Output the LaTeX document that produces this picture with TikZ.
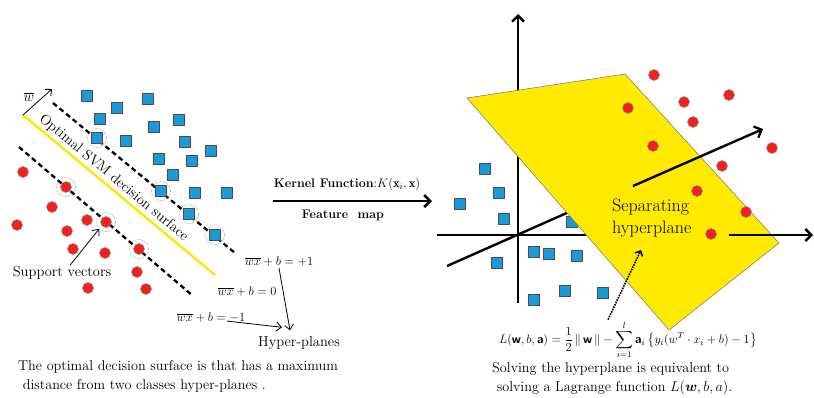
\RequirePackage{fix-cm}
\documentclass[tikz,border=0pt]{standalone}
\usepackage{amsmath, amssymb}
\usepackage{fontspec}
\usetikzlibrary{arrows.meta, positioning, calc}
\definecolor{sqblue}{HTML}{1A9AD7}
\definecolor{dotred}{HTML}{F42020}
\definecolor{planeyellow}{HTML}{FFEA00}
\newcommand{\sfw}{\text{\sffamily\bfseries w}}
\newcommand{\sfa}{\text{\sffamily\bfseries a}}

\begin{document}
\begin{tikzpicture}[x=1pt, y=-1pt, >={Straight Barb[length=5pt,width=9pt]},
    sq/.style={draw=black!70, fill=sqblue, minimum size=11pt, inner sep=0pt, line width=0.6pt},
    dot/.style={circle, draw=black!45, fill=dotred, minimum size=11pt, inner sep=0pt, line width=0.5pt},
    ring/.style={circle, draw=black!60, densely dotted, minimum size=19pt, inner sep=0pt, line width=0.5pt},
    margin/.style={line width=2.3pt, dash pattern=on 5pt off 3.5pt},
    axis/.style={line width=2.4pt, ->, >={Straight Barb[length=6pt,width=12pt]}},
    lbl/.style={font=\fontsize{14.5}{17}\selectfont, inner sep=1pt},
    eqlbl/.style={font=\fontsize{12.5}{14}\selectfont, inner sep=1pt},
    caption/.style={font=\fontsize{14.2}{19}\selectfont, align=left, inner sep=0pt}]
    \useasboundingbox (0,0) rectangle (814,397);

    % ----- left: maximum margin picture -----
    \coordinate (dsA) at (23,115);
    \coordinate (dsB) at (215,275);
    \coordinate (upA) at (53,103);
    \coordinate (upB) at (235,253);
    \coordinate (loA) at (19,147);
    \coordinate (loB) at (193,296);
    \draw [margin] (upA) -- (upB);
    \draw [margin] (loA) -- (loB);
    \draw [line width=2.4pt, yellow!90!orange] (dsA) -- node [sloped, pos=0.44, anchor=south, lbl, text=black, inner sep=2pt] {Optimal SVM decision surface} (dsB);
    % normal vector
    \coordinate (wtip) at (52,89);
    \draw [->, thick] (dsA) -- (wtip);
    \node [lbl] (wlbl) at (29,97) {$\overline{w}$};
    % class +1 (squares)
    \foreach \x/\y in {87/96, 148/99, 117/108, 100/119, 179/120, 154/127, 126/141, 185/142,
        211/151, 159/159, 192/161, 173/175, 195/193, 227/193}
        \node [sq] at (\x,\y) {};
    \foreach \x/\y [count=\i] in {97/138, 161/191, 189/214, 215/235} {
        \node [ring] (svb\i) at (\x,\y) {};
        \node [sq] at (\x,\y) {};
    }
    % class -1 (dots)
    \foreach \x/\y in {23/172, 52/207, 17/225, 67/231, 87/220, 73/249, 105/253, 137/272, 88/288, 146/289}
        \node [dot] at (\x,\y) {};
    \foreach \x/\y [count=\i] in {66/187, 106/222, 139/249} {
        \node [ring] (svr\i) at (\x,\y) {};
        \node [dot] at (\x,\y) {};
    }
    \node [lbl] (sup) at (62,273) {Support vectors};
    \draw [->, thick] ([xshift=8pt]sup.north) -- (svr2.south west);
    % hyper-plane equations
    \node [eqlbl] (eqp) at (279,262) {$\overline{wx}+b=+1$};
    \node [eqlbl] (eqz) at (247,292) {$\overline{wx}+b=0$};
    \node [eqlbl] (eqm) at (211,318) {$\overline{wx}+b=-1$};
    \node [lbl] (hyper) at (299,343) {Hyper-planes};
    \draw [->, thick] (eqp.south) -- ([xshift=-9pt,yshift=5pt]hyper.north);
    \draw [->, thick] ([xshift=16pt,yshift=3pt]eqm.south) -- ([xshift=-17pt,yshift=8pt]hyper.north);
    \node [caption, anchor=north west] (capL) at (18,360)
        {The optimal decision surface is that has a maximum\\
         \ distance from two classes hyper-planes .};

    % ----- kernel mapping -----
    \coordinate (kA) at (273,201);
    \coordinate (kB) at (432,201);
    \draw [line width=2.6pt, ->, >={Straight Barb[length=6pt,width=12pt]}] (kA) -- (kB);
    \node [font=\fontsize{12.5}{14}\selectfont, inner sep=1pt] (kern) at (347,184)
        {\textbf{Kernel Function}:$K(\mathbf{x}_i,\mathbf{x})$};
    \node [font=\fontsize{12.5}{14}\selectfont\bfseries, inner sep=1pt] (feat) at (343,215) {Feature\ \ map};

    % ----- right: feature space -----
    \coordinate (orig) at (518,235);
    \coordinate (vbot) at (518,303);
    \coordinate (vtop) at (518,14);
    \coordinate (hleft) at (437,235);
    \coordinate (hmid) at (600,235);
    \coordinate (hout) at (729,235);
    \coordinate (htip) at (813,235);
    \coordinate (dlow) at (447,266);
    \coordinate (dhigh) at (578,208);
    \draw [axis] (vbot) -- (vtop);
    \draw [line width=2.4pt] (hleft) -- (hmid);
    \draw [line width=2.4pt] (dlow) -- (dhigh);
    \node [sq] at (572,222) {};
    % separating plane
    \draw [fill=planeyellow, draw=black!55, line width=0.5pt]
        (467,98) coordinate (pA) -- (625,74) coordinate (pB) -- (779,243) coordinate (pC)
        -- (669,330) coordinate (pD) -- cycle;
    \draw [axis] (hout) -- (htip);
    \coordinate (nA) at (633,186);
    \coordinate (nB) at (763,129);
    \draw [axis] (nA) -- (nB);
    \foreach \x/\y in {654/75, 729/95, 684/102, 628/108, 693/122, 653/146, 772/148,
        722/166, 697/191, 746/212, 711/234}
        \node [dot] at (\x,\y) {};
    \foreach \x/\y in {485/169, 499/193, 460/204, 504/219, 534/252, 549/254, 577/256,
        497/263, 534/300, 565/291, 603/293}
        \node [sq] at (\x,\y) {};
    \node [font=\fontsize{18}{22}\selectfont, align=left, inner sep=0pt, anchor=west] (sep) at (612,218)
        {Separating\\hyperplane};
    % Lagrange function
    \node [font=\fontsize{12.3}{14}\selectfont, inner sep=1pt] (lag) at (628,340)
        {$\displaystyle L(\sfw,b,\sfa)=\frac{1}{2}\,\|\,\sfw\,\|-\sum_{i=1}^{l}\sfa_i\,\bigl\{y_i(w^T\cdot x_i+b)-1\bigr\}$};
    \coordinate (septip) at (641,250);
    \draw [->, densely dotted, line width=1.6pt, >={Straight Barb[length=4pt,width=8pt]}] ([xshift=-20pt]lag.north) -- (septip);
    \node [caption, anchor=north west] (capR) at (492,362)
        {Solving the hyperplane is equivalent to\\
         \ solving a Lagrange function $L(\boldsymbol{w},b,a)$.};
\end{tikzpicture}
\end{document}
